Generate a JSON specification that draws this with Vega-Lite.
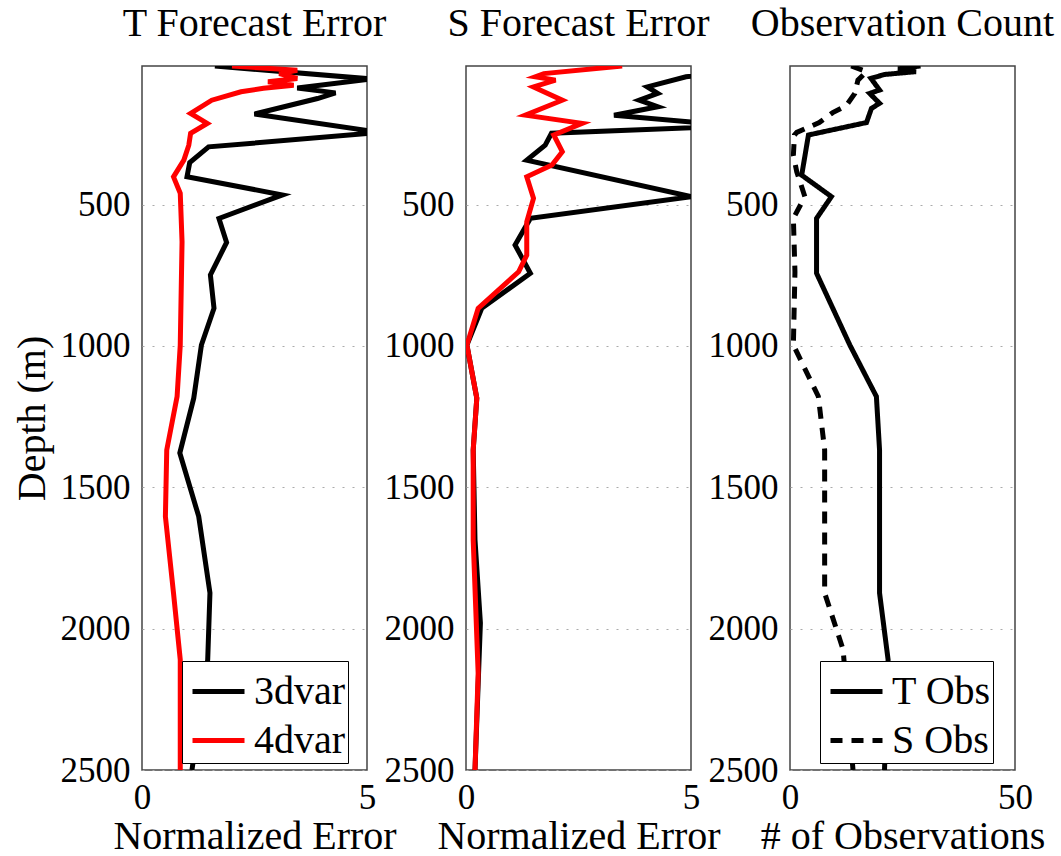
{
  "$schema": "https://vega.github.io/schema/vega-lite/v6.json",
  "padding": {"left": 11, "top": 3, "right": 0, "bottom": 0},
  "spacing": 99,
  "bounds": "flush",
  "config": {
    "font": "Liberation Serif",
    "view": {"stroke": "#444", "strokeWidth": 1.5},
    "title": {"fontSize": 40, "fontWeight": "normal", "color": "#000", "font": "Liberation Serif", "offset": 22},
    "axis": {"labelFont": "Liberation Serif", "titleFont": "Liberation Serif", "labelFontSize": 35, "titleFontSize": 40, "titleFontWeight": "normal", "labelColor": "#000", "titleColor": "#000", "ticks": false, "domain": false, "grid": false},
    "axisY": {"grid": true, "gridDash": [2, 8], "gridColor": "#aaa", "gridWidth": 1, "labelPadding": 12, "titlePadding": 8, "format": "d"},
    "axisX": {"labelPadding": 10, "titlePadding": 1, "labelFlush": false, "format": "d"}
  },
  "resolve": {"legend": {"color": "independent", "strokeDash": "independent"}},
  "datasets": {
    "t": [
      {"depth": 10, "err": 1.62, "method": "3dvar"},
      {"depth": 56, "err": 5.1, "method": "3dvar"},
      {"depth": 88, "err": 3.45, "method": "3dvar"},
      {"depth": 105, "err": 4.3, "method": "3dvar"},
      {"depth": 125, "err": 3.9, "method": "3dvar"},
      {"depth": 180, "err": 2.5, "method": "3dvar"},
      {"depth": 245, "err": 5.3, "method": "3dvar"},
      {"depth": 296, "err": 1.48, "method": "3dvar"},
      {"depth": 352, "err": 1.06, "method": "3dvar"},
      {"depth": 402, "err": 1.0, "method": "3dvar"},
      {"depth": 466, "err": 3.12, "method": "3dvar"},
      {"depth": 549, "err": 1.71, "method": "3dvar"},
      {"depth": 634, "err": 1.88, "method": "3dvar"},
      {"depth": 749, "err": 1.52, "method": "3dvar"},
      {"depth": 867, "err": 1.6, "method": "3dvar"},
      {"depth": 997, "err": 1.32, "method": "3dvar"},
      {"depth": 1185, "err": 1.15, "method": "3dvar"},
      {"depth": 1379, "err": 0.84, "method": "3dvar"},
      {"depth": 1603, "err": 1.26, "method": "3dvar"},
      {"depth": 1874, "err": 1.51, "method": "3dvar"},
      {"depth": 2110, "err": 1.46, "method": "3dvar"},
      {"depth": 2500, "err": 1.11, "method": "3dvar"},
      {"depth": 10, "err": 2.0, "method": "4dvar"},
      {"depth": 25, "err": 3.45, "method": "4dvar"},
      {"depth": 37, "err": 3.05, "method": "4dvar"},
      {"depth": 54, "err": 3.45, "method": "4dvar"},
      {"depth": 66, "err": 2.8, "method": "4dvar"},
      {"depth": 78, "err": 3.37, "method": "4dvar"},
      {"depth": 89, "err": 2.7, "method": "4dvar"},
      {"depth": 101, "err": 2.2, "method": "4dvar"},
      {"depth": 131, "err": 1.55, "method": "4dvar"},
      {"depth": 178, "err": 1.08, "method": "4dvar"},
      {"depth": 213, "err": 1.45, "method": "4dvar"},
      {"depth": 248, "err": 1.08, "method": "4dvar"},
      {"depth": 290, "err": 1.04, "method": "4dvar"},
      {"depth": 343, "err": 0.93, "method": "4dvar"},
      {"depth": 402, "err": 0.7, "method": "4dvar"},
      {"depth": 460, "err": 0.85, "method": "4dvar"},
      {"depth": 632, "err": 0.89, "method": "4dvar"},
      {"depth": 997, "err": 0.85, "method": "4dvar"},
      {"depth": 1179, "err": 0.78, "method": "4dvar"},
      {"depth": 1368, "err": 0.55, "method": "4dvar"},
      {"depth": 1603, "err": 0.52, "method": "4dvar"},
      {"depth": 1874, "err": 0.7, "method": "4dvar"},
      {"depth": 2110, "err": 0.85, "method": "4dvar"},
      {"depth": 2500, "err": 0.85, "method": "4dvar"}
    ],
    "s": [
      {"depth": 10, "err": 7.0, "method": "3dvar"},
      {"depth": 48, "err": 4.89, "method": "3dvar"},
      {"depth": 84, "err": 4.03, "method": "3dvar"},
      {"depth": 107, "err": 4.26, "method": "3dvar"},
      {"depth": 131, "err": 3.85, "method": "3dvar"},
      {"depth": 154, "err": 4.26, "method": "3dvar"},
      {"depth": 184, "err": 3.29, "method": "3dvar"},
      {"depth": 222, "err": 6.0, "method": "3dvar"},
      {"depth": 248, "err": 1.9, "method": "3dvar"},
      {"depth": 290, "err": 1.76, "method": "3dvar"},
      {"depth": 343, "err": 1.35, "method": "3dvar"},
      {"depth": 472, "err": 5.0, "method": "3dvar"},
      {"depth": 549, "err": 1.43, "method": "3dvar"},
      {"depth": 643, "err": 1.09, "method": "3dvar"},
      {"depth": 743, "err": 1.43, "method": "3dvar"},
      {"depth": 867, "err": 0.35, "method": "3dvar"},
      {"depth": 997, "err": 0.02, "method": "3dvar"},
      {"depth": 1185, "err": 0.24, "method": "3dvar"},
      {"depth": 1368, "err": 0.16, "method": "3dvar"},
      {"depth": 1686, "err": 0.2, "method": "3dvar"},
      {"depth": 1980, "err": 0.32, "method": "3dvar"},
      {"depth": 2500, "err": 0.2, "method": "3dvar"},
      {"depth": 10, "err": 3.47, "method": "4dvar"},
      {"depth": 37, "err": 1.73, "method": "4dvar"},
      {"depth": 48, "err": 1.54, "method": "4dvar"},
      {"depth": 60, "err": 1.99, "method": "4dvar"},
      {"depth": 84, "err": 1.5, "method": "4dvar"},
      {"depth": 131, "err": 2.14, "method": "4dvar"},
      {"depth": 184, "err": 1.32, "method": "4dvar"},
      {"depth": 213, "err": 2.58, "method": "4dvar"},
      {"depth": 254, "err": 1.95, "method": "4dvar"},
      {"depth": 313, "err": 2.14, "method": "4dvar"},
      {"depth": 360, "err": 1.91, "method": "4dvar"},
      {"depth": 402, "err": 1.35, "method": "4dvar"},
      {"depth": 478, "err": 1.5, "method": "4dvar"},
      {"depth": 561, "err": 1.35, "method": "4dvar"},
      {"depth": 679, "err": 1.35, "method": "4dvar"},
      {"depth": 738, "err": 1.17, "method": "4dvar"},
      {"depth": 867, "err": 0.27, "method": "4dvar"},
      {"depth": 997, "err": 0.02, "method": "4dvar"},
      {"depth": 1185, "err": 0.24, "method": "4dvar"},
      {"depth": 1368, "err": 0.16, "method": "4dvar"},
      {"depth": 1686, "err": 0.16, "method": "4dvar"},
      {"depth": 2157, "err": 0.27, "method": "4dvar"},
      {"depth": 2500, "err": 0.2, "method": "4dvar"}
    ],
    "obs": [
      {"depth": 10, "count": 29, "type": "T Obs"},
      {"depth": 20, "count": 24, "type": "T Obs"},
      {"depth": 30, "count": 28, "type": "T Obs"},
      {"depth": 40, "count": 21, "type": "T Obs"},
      {"depth": 54, "count": 18, "type": "T Obs"},
      {"depth": 95, "count": 19.9, "type": "T Obs"},
      {"depth": 107, "count": 17.7, "type": "T Obs"},
      {"depth": 142, "count": 19.9, "type": "T Obs"},
      {"depth": 160, "count": 18.1, "type": "T Obs"},
      {"depth": 210, "count": 17, "type": "T Obs"},
      {"depth": 254, "count": 4.1, "type": "T Obs"},
      {"depth": 396, "count": 2.6, "type": "T Obs"},
      {"depth": 472, "count": 9.2, "type": "T Obs"},
      {"depth": 549, "count": 5.9, "type": "T Obs"},
      {"depth": 743, "count": 5.9, "type": "T Obs"},
      {"depth": 997, "count": 13.3, "type": "T Obs"},
      {"depth": 1179, "count": 19.2, "type": "T Obs"},
      {"depth": 1368, "count": 19.9, "type": "T Obs"},
      {"depth": 1874, "count": 19.9, "type": "T Obs"},
      {"depth": 2110, "count": 21.8, "type": "T Obs"},
      {"depth": 2500, "count": 21.0, "type": "T Obs"},
      {"depth": 10, "count": 13.6, "type": "S Obs"},
      {"depth": 30, "count": 17, "type": "S Obs"},
      {"depth": 60, "count": 15.1, "type": "S Obs"},
      {"depth": 107, "count": 14.4, "type": "S Obs"},
      {"depth": 150, "count": 12.5, "type": "S Obs"},
      {"depth": 175, "count": 9.5, "type": "S Obs"},
      {"depth": 210, "count": 6.5, "type": "S Obs"},
      {"depth": 245, "count": 1.5, "type": "S Obs"},
      {"depth": 254, "count": 1.0, "type": "S Obs"},
      {"depth": 325, "count": 0.75, "type": "S Obs"},
      {"depth": 384, "count": 1.5, "type": "S Obs"},
      {"depth": 472, "count": 3.3, "type": "S Obs"},
      {"depth": 549, "count": 0.75, "type": "S Obs"},
      {"depth": 738, "count": 1.1, "type": "S Obs"},
      {"depth": 997, "count": 0.75, "type": "S Obs"},
      {"depth": 1179, "count": 6.3, "type": "S Obs"},
      {"depth": 1368, "count": 7.7, "type": "S Obs"},
      {"depth": 1874, "count": 7.7, "type": "S Obs"},
      {"depth": 2074, "count": 11.8, "type": "S Obs"},
      {"depth": 2500, "count": 14.0, "type": "S Obs"}
    ]
  },
  "hconcat": [
    {
      "width": 225, "height": 704,
      "title": "T Forecast Error",
      "data": {"name": "t"},
      "mark": {"type": "line", "strokeWidth": 5, "clip": true},
      "encoding": {
        "y": {"field": "depth", "type": "quantitative", "scale": {"domain": [10, 2500], "reverse": true, "nice": false, "zero": false}, "axis": {"values": [500, 1000, 1500, 2000, 2500], "title": "Depth (m)"}},
        "x": {"field": "err", "type": "quantitative", "scale": {"domain": [0, 5], "nice": false}, "axis": {"values": [0, 5], "title": "Normalized Error"}},
        "color": {"field": "method", "type": "nominal", "scale": {"domain": ["3dvar", "4dvar"], "range": ["#000000", "#ff0000"]},
          "legend": {"orient": "none", "legendX": 40, "legendY": 595, "title": null, "symbolType": "stroke", "symbolSize": 2704, "symbolStrokeWidth": 5, "symbolOffset": 6, "labelFontSize": 40, "labelFont": "Liberation Serif", "labelColor": "#000", "strokeColor": "#000", "fillColor": "#fff", "padding": 2, "rowPadding": -6, "labelOffset": 7, "labelLimit": 0}},
        "order": {"field": "depth", "type": "quantitative"}
      }
    },
    {
      "width": 225, "height": 704,
      "title": "S Forecast Error",
      "data": {"name": "s"},
      "mark": {"type": "line", "strokeWidth": 5, "clip": true},
      "encoding": {
        "y": {"field": "depth", "type": "quantitative", "scale": {"domain": [10, 2500], "reverse": true, "nice": false, "zero": false}, "axis": {"values": [500, 1000, 1500, 2000, 2500], "title": null}},
        "x": {"field": "err", "type": "quantitative", "scale": {"domain": [0, 5], "nice": false}, "axis": {"values": [0, 5], "title": "Normalized Error"}},
        "color": {"field": "method", "type": "nominal", "scale": {"domain": ["3dvar", "4dvar"], "range": ["#000000", "#ff0000"]}, "legend": null},
        "order": {"field": "depth", "type": "quantitative"}
      }
    },
    {
      "width": 225, "height": 704,
      "title": "Observation Count",
      "data": {"name": "obs"},
      "mark": {"type": "line", "strokeWidth": 5, "clip": true, "color": "#000"},
      "encoding": {
        "y": {"field": "depth", "type": "quantitative", "scale": {"domain": [10, 2500], "reverse": true, "nice": false, "zero": false}, "axis": {"values": [500, 1000, 1500, 2000, 2500], "title": null}},
        "x": {"field": "count", "type": "quantitative", "scale": {"domain": [0, 50], "nice": false}, "axis": {"values": [0, 50], "title": "# of Observations"}},
        "strokeDash": {"field": "type", "type": "nominal", "scale": {"domain": ["T Obs", "S Obs"], "range": [[1, 0], [12, 9]]},
          "legend": {"orient": "none", "legendX": 30, "legendY": 595, "title": null, "symbolType": "stroke", "symbolSize": 2704, "symbolStrokeWidth": 5, "symbolOffset": 6, "symbolStrokeColor": "#000", "labelFontSize": 40, "labelFont": "Liberation Serif", "labelColor": "#000", "strokeColor": "#000", "fillColor": "#fff", "padding": 2, "rowPadding": -6, "labelOffset": 7, "labelLimit": 0}},
        "order": {"field": "depth", "type": "quantitative"}
      }
    }
  ]
}
